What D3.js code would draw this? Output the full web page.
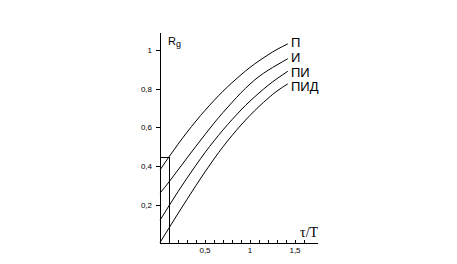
<!DOCTYPE html>
<html><head><meta charset="utf-8">
<script src="https://cdn.jsdelivr.net/npm/d3@7"></script>
<style>body{margin:0;background:#fff}svg{display:block}</style>
</head><body>
<script>
const tau = [0, 0.1, 0.2, 0.3, 0.4, 0.5, 0.6, 0.7, 0.8, 0.9, 1.0, 1.1, 1.2, 1.3, 1.42];
const seriesNames = ["П", "И", "ПИ", "ПИД"];
const valP   = [0.38, 0.448, 0.513, 0.575, 0.633, 0.688, 0.739, 0.787, 0.831, 0.872, 0.91, 0.944, 0.975, 1.003, 1.032];
const valI   = [0.26, 0.318, 0.38, 0.442, 0.503, 0.563, 0.622, 0.677, 0.729, 0.779, 0.824, 0.863, 0.895, 0.923, 0.955];
const valPI  = [0.12, 0.195, 0.268, 0.338, 0.405, 0.47, 0.53, 0.587, 0.64, 0.69, 0.736, 0.778, 0.817, 0.852, 0.89];
const valPID = [0.005, 0.08, 0.155, 0.228, 0.30, 0.37, 0.437, 0.50, 0.558, 0.612, 0.662, 0.708, 0.75, 0.788, 0.825];
const xTickLabels = ["0,5", "1", "1,5"];
const xTickValues = [0.5, 1, 1.5];
const yTickLabels = ["0,2", "0,4", "0,6", "0,8", "1"];
const yTickValues = [0.2, 0.4, 0.6, 0.8, 1];
const markerTau = 0.1, markerVal = 0.445;

const W = 457, H = 264;
const svg = d3.select("body").append("svg").attr("width", W).attr("height", H);
const x = d3.scaleLinear().domain([0, 1]).range([160, 250]);
const y = d3.scaleLinear().domain([0, 1]).range([243.5, 50]);

const g = svg.append("g");
g.append("line").attr("x1", x(0)).attr("x2", x(0)).attr("y1", y(0)).attr("y2", 33)
  .attr("stroke", "#000").attr("shape-rendering", "crispEdges");
g.append("line").attr("x1", x(0)).attr("x2", 318).attr("y1", y(0)).attr("y2", y(0))
  .attr("stroke", "#000").attr("shape-rendering", "crispEdges");

const minor = d3.range(0, 17).map(i => i / 10);
g.selectAll(".xt").data(minor).enter().append("line")
  .attr("x1", d => Math.round(x(d)) + 0.5).attr("x2", d => Math.round(x(d)) + 0.5)
  .attr("y1", Math.round(y(0))).attr("y2", Math.round(y(0)) - 4)
  .attr("stroke", "#000");
g.selectAll(".xl").data(xTickValues).enter().append("text")
  .attr("x", d => x(d)).attr("y", 253)
  .attr("text-anchor", "middle").attr("font-family", "Liberation Sans, Arial, sans-serif")
  .attr("font-size", 8).text((d, i) => xTickLabels[i]);

g.selectAll(".yt").data(yTickValues).enter().append("line")
  .attr("x1", 156).attr("x2", x(0))
  .attr("y1", d => Math.round(y(d)) + 0.5).attr("y2", d => Math.round(y(d)) + 0.5)
  .attr("stroke", "#000");
g.selectAll(".yl").data(yTickValues).enter().append("text")
  .attr("x", 152).attr("y", d => y(d) + 3)
  .attr("text-anchor", "end").attr("font-family", "Liberation Sans, Arial, sans-serif")
  .attr("font-size", 8).text((d, i) => yTickLabels[i]);

g.append("path")
  .attr("d", `M${x(0)},${y(markerVal)}H${x(markerTau)}V${y(0)}`)
  .attr("fill", "none").attr("stroke", "#000").attr("shape-rendering", "crispEdges");

const allVals = [valP, valI, valPI, valPID];
const line = d3.line().x(d => x(d[0])).y(d => y(d[1])).curve(d3.curveNatural);
allVals.forEach(vals => {
  g.append("path").datum(tau.map((t, i) => [t, vals[i]]))
    .attr("d", line).attr("fill", "none").attr("stroke", "#000").attr("stroke-width", 1);
});

const labelY = [47, 62, 77, 91];
seriesNames.forEach((n, i) => {
  g.append("text").attr("x", 291).attr("y", labelY[i])
    .attr("font-family", "Liberation Sans, Arial, sans-serif").attr("font-size", 13).text(n);
});

const rt = g.append("text").attr("x", 168).attr("y", 45)
  .attr("font-family", "Liberation Sans, Arial, sans-serif").attr("font-size", 11);
rt.append("tspan").text("R");
rt.append("tspan").attr("font-size", 9).attr("dy", 2).text("g");
g.append("text").attr("x", 300).attr("y", 237)
  .attr("font-family", "Liberation Serif, Times New Roman, serif").attr("font-size", 14).text("τ/T");
</script>
</body></html>
